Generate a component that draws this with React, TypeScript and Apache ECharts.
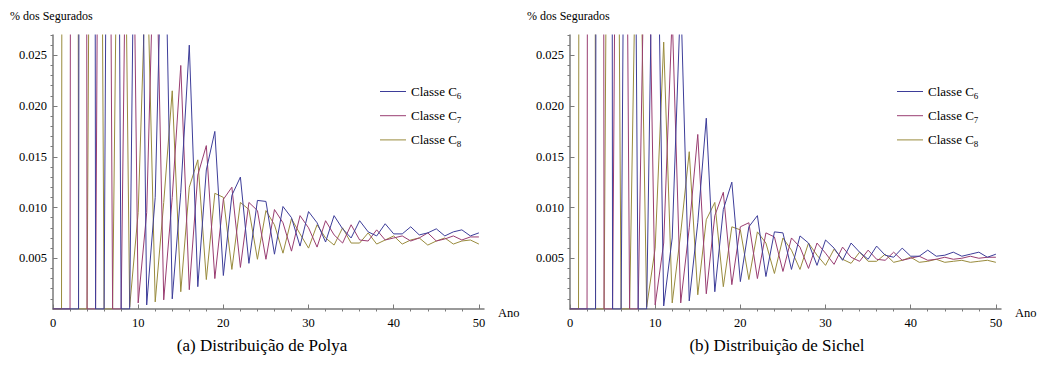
import React, { useEffect, useRef } from "react";
import * as echarts from "echarts";

const years = [0,1,2,3,4,5,6,7,8,9,10,11,12,13,14,15,16,17,18,19,20,21,22,23,24,25,26,27,28,29,30,31,32,33,34,35,36,37,38,39,40,41,42,43,44,45,46,47,48,49,50];

const seriesNames = ["Classe C6", "Classe C7", "Classe C8"];

const polyaC6 = [0,0,0,0,0.66,0,0,0.15,0,0,0.075,0.0004,0.011,0.045,0.001,0.0115,0.026,0.0022,0.0137,0.0175,0.0033,0.0112,0.013,0.0045,0.0107,0.0106,0.0054,0.0101,0.009,0.0062,0.0096,0.0085,0.0066,0.0092,0.0079,0.007,0.0087,0.0076,0.0072,0.0084,0.0074,0.0074,0.0081,0.0073,0.0075,0.0079,0.0072,0.0076,0.0078,0.0072,0.0075];
const polyaC7 = [0,0,0,0.73,0,0,0.15,0,0,0.07,0.0006,0.0095,0.041,0.0009,0.011,0.024,0.0019,0.0132,0.0161,0.003,0.0108,0.012,0.0041,0.0105,0.0097,0.0049,0.0098,0.0085,0.0057,0.0092,0.008,0.0061,0.0087,0.0073,0.0065,0.0083,0.0068,0.0067,0.0078,0.0068,0.007,0.0072,0.0067,0.007,0.0075,0.0067,0.0069,0.0072,0.0068,0.0071,0.0071];
const polyaC8 = [0,0,0.81,0,0,0.15,0,0,0.075,0.0002,0.0095,0.036,0.0007,0.0105,0.0215,0.0017,0.012,0.0147,0.0029,0.0114,0.011,0.0039,0.0105,0.0098,0.0049,0.0097,0.0083,0.0055,0.0089,0.0074,0.006,0.0083,0.007,0.0063,0.008,0.0065,0.0065,0.0075,0.0064,0.0068,0.0072,0.0064,0.0068,0.007,0.0063,0.0067,0.007,0.0064,0.0067,0.0068,0.0064];

const sichelC6 = [0,0,0,0,0.74,0,0,0.12,0,0,0.055,0.0003,0.007,0.031,0.0008,0.0085,0.0188,0.0017,0.0098,0.0125,0.0027,0.0081,0.0092,0.0032,0.0076,0.0075,0.0039,0.0072,0.0065,0.0043,0.0068,0.006,0.0048,0.0065,0.0056,0.0049,0.0062,0.0053,0.0051,0.006,0.0052,0.0052,0.0058,0.0052,0.0053,0.0056,0.0052,0.0054,0.0056,0.0051,0.0054];
const sichelC7 = [0,0,0,0.79,0,0,0.12,0,0,0.05,0.0004,0.0065,0.029,0.0006,0.008,0.0172,0.0015,0.0092,0.0115,0.0024,0.0081,0.0085,0.003,0.0075,0.0071,0.0037,0.007,0.0061,0.004,0.0065,0.0055,0.0044,0.0061,0.0051,0.0047,0.0058,0.0049,0.0048,0.0056,0.0048,0.005,0.0052,0.0048,0.0049,0.0051,0.0049,0.005,0.0052,0.005,0.0051,0.0051];
const sichelC8 = [0,0,0.84,0,0,0.13,0,0,0.05,0.0002,0.006,0.0263,0.0006,0.0075,0.0155,0.0014,0.0088,0.0105,0.0022,0.0081,0.0078,0.0029,0.0076,0.0065,0.0035,0.007,0.0058,0.0039,0.0065,0.0053,0.0043,0.0059,0.0049,0.0045,0.0056,0.0047,0.0047,0.0054,0.0046,0.0048,0.0051,0.0046,0.0047,0.0049,0.0046,0.0047,0.0048,0.0046,0.0047,0.0048,0.0046];

const xMajorTicks = [0,10,20,30,40,50];
const xMinorTicks = [2,4,6,8,12,14,16,18,22,24,26,28,32,34,36,38,42,44,46,48];
const yMajorTicks = [0.005,0.01,0.015,0.02,0.025];
const yMinorTicks = [0.001,0.002,0.003,0.004,0.006,0.007,0.008,0.009,0.011,0.012,0.013,0.014,0.016,0.017,0.018,0.019,0.021,0.022,0.023,0.024,0.026,0.027];

const yAxisTitle = "% dos Segurados";
const xAxisTitle = "Ano";
const captions = ["(a) Distribuição de Polya", "(b) Distribuição de Sichel"];

const COLORS = ["#3d3d99", "#993d71", "#998b3d"];
const AXIS_COLOR = "#7a7a7a";
const SERIF = "Liberation Serif";

const X_MAX = 50.6;
const Y_MAX = 0.027;

function buildAxes(gridIndex: number) {
  const xAxes = [
    {
      type: "value", gridIndex, min: 0, max: X_MAX,
      axisLine: { show: true, onZero: false, lineStyle: { color: AXIS_COLOR, width: 1.5 } },
      axisTick: { show: true, inside: true, length: 4.5, customValues: xMajorTicks, lineStyle: { color: AXIS_COLOR, width: 1 } },
      axisLabel: { show: true, customValues: xMajorTicks, fontFamily: SERIF, fontSize: 12.5, color: "#000", margin: 7 },
      splitLine: { show: false },
      name: xAxisTitle, nameLocation: "end", nameGap: 14,
      nameTextStyle: { fontFamily: SERIF, fontSize: 12.5, color: "#000", verticalAlign: "top", align: "left", padding: [-3, 0, 0, 0] },
    },
    {
      type: "value", gridIndex, min: 0, max: X_MAX,
      axisLine: { show: false },
      axisTick: { show: true, inside: true, length: 2.5, customValues: xMinorTicks, lineStyle: { color: AXIS_COLOR, width: 1 } },
      axisLabel: { show: false },
      splitLine: { show: false },
    },
  ];
  const yAxes = [
    {
      type: "value", gridIndex, min: 0, max: Y_MAX,
      axisLine: { show: true, onZero: false, lineStyle: { color: AXIS_COLOR, width: 1.5 } },
      axisTick: { show: true, inside: true, length: 4.5, customValues: yMajorTicks, lineStyle: { color: AXIS_COLOR, width: 1 } },
      axisLabel: { show: true, customValues: yMajorTicks, fontFamily: SERIF, fontSize: 12.5, color: "#000", margin: 6, formatter: (v: number) => v.toFixed(3) },
      splitLine: { show: false },
    },
    {
      type: "value", gridIndex, min: 0, max: Y_MAX,
      axisLine: { show: false },
      axisTick: { show: true, inside: true, length: 2.5, customValues: yMinorTicks, lineStyle: { color: AXIS_COLOR, width: 1 } },
      axisLabel: { show: false },
      splitLine: { show: false },
    },
  ];
  return { xAxes, yAxes };
}

function toPairs(values: number[]) {
  return years.map((y, i) => [y, values[i]]);
}

export default function App() {
  const ref = useRef<HTMLDivElement>(null);

  useEffect(() => {
    if (!ref.current) return;
    const chart = echarts.init(ref.current, null, { renderer: "svg" });

    const left = buildAxes(0);
    const right = buildAxes(1);

    const panels = [
      [polyaC6, polyaC7, polyaC8],
      [sichelC6, sichelC7, sichelC8],
    ];

    const series: any[] = [];
    panels.forEach((panel, p) => {
      panel.forEach((vals, k) => {
        series.push({
          type: "line",
          name: seriesNames[k],
          xAxisIndex: p * 2,
          yAxisIndex: p * 2,
          data: toPairs(vals),
          showSymbol: false,
          symbol: "none",
          clip: true,
          lineStyle: { color: COLORS[k], width: 1 },
          itemStyle: { color: COLORS[k] },
          z: 3 - k,
        });
      });
    });

    const legendCommon = {
      orient: "vertical",
      icon: "rect",
      itemWidth: 26,
      itemHeight: 1,
      itemGap: 8.7,
      selectedMode: false,
      data: seriesNames,
      formatter: (name: string) => "{a|" + name.slice(0, -1) + "}{s|" + name.slice(-1) + "}",
      textStyle: {
        fontFamily: SERIF,
        color: "#000",
        rich: {
          a: { fontFamily: SERIF, fontSize: 13, lineHeight: 18, color: "#000", verticalAlign: "middle" },
          s: { fontFamily: SERIF, fontSize: 9, lineHeight: 10, color: "#000", verticalAlign: "bottom" },
        },
      },
    };

    const option: any = {
      animation: false,
      backgroundColor: "#fff",
      grid: [
        { left: 53, top: 35, width: 431, height: 274 },
        { left: 570, top: 35, width: 431, height: 274 },
      ],
      xAxis: [...left.xAxes, ...right.xAxes],
      yAxis: [...left.yAxes, ...right.yAxes],
      legend: [
        { ...legendCommon, left: 375, top: 80 },
        { ...legendCommon, left: 892, top: 80 },
      ],
      series,
      graphic: [
        { type: "text", left: 10, top: 10, style: { text: yAxisTitle, font: "12px 'Liberation Serif'", fill: "#000" } },
        { type: "text", left: 527, top: 10, style: { text: yAxisTitle, font: "12px 'Liberation Serif'", fill: "#000" } },
        { type: "text", x: 262, y: 345, style: { text: captions[0], font: "17px 'Liberation Serif'", fill: "#000", align: "center", verticalAlign: "middle" } },
        { type: "text", x: 777, y: 345, style: { text: captions[1], font: "17px 'Liberation Serif'", fill: "#000", align: "center", verticalAlign: "middle" } },
      ],
    };

    chart.setOption(option);
    return () => chart.dispose();
  }, []);

  return (
    <div
      ref={ref}
      style={{ position: "absolute", left: 0, top: 0, width: 1040, height: 373, background: "#fff" }}
    />
  );
}
